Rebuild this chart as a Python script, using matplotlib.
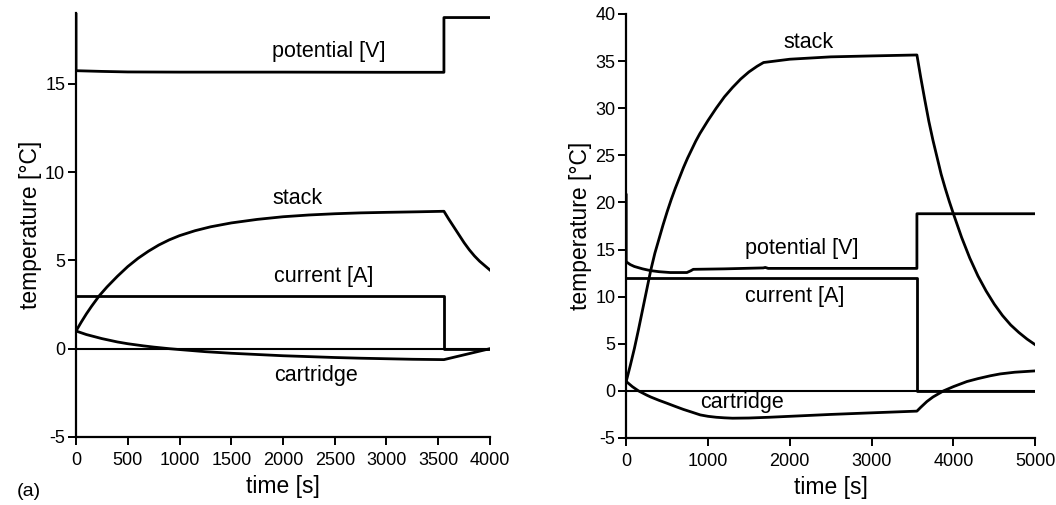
"""Stack / cartridge temperatures with current and potential, two runs side by side."""

import matplotlib

matplotlib.use("Agg")
import matplotlib.pyplot as plt

plt.rcParams["font.family"] = ["Liberation Sans", "DejaVu Sans"]
plt.rcParams["axes.unicode_minus"] = False

# ---- panel (a): 4000 s run ----
a_zero_t = [0, 4000]
a_zero_v = [0, 0]

a_pot_t = [0, 0, 250, 500, 1000, 2000, 3000, 3555, 3555, 4000]
a_pot_v = [19.0, 15.74, 15.7, 15.67, 15.66, 15.66, 15.65, 15.65, 18.75, 18.75]

a_cur_t = [0, 3555, 3555, 4000]
a_cur_v = [3.0, 3.0, 0.0, 0.0]

a_stack_t = [0, 50, 100, 150, 225, 300, 400, 500, 600, 700, 800, 900, 1000, 1150, 1300,
             1500, 1750, 2000, 2250, 2500, 2750, 3000, 3300, 3555,
             3600, 3650, 3700, 3750, 3800, 3850, 3900, 3950, 4000]
a_stack_v = [1.0, 1.5, 1.97, 2.4, 3.0, 3.5, 4.1, 4.65, 5.12, 5.52, 5.87, 6.16, 6.4, 6.68, 6.9,
             7.12, 7.32, 7.47, 7.57, 7.64, 7.69, 7.72, 7.75, 7.78,
             7.35, 6.9, 6.45, 6.0, 5.6, 5.25, 4.95, 4.7, 4.45]

a_cart_t = [0, 100, 250, 400, 500, 650, 750, 900, 1000, 1250, 1500, 1750, 2000, 2250, 2500,
            2750, 3000, 3250, 3555, 4000]
a_cart_v = [1.0, 0.8, 0.57, 0.38, 0.28, 0.16, 0.09, 0.0, -0.05, -0.17, -0.26, -0.33, -0.4,
            -0.45, -0.5, -0.54, -0.57, -0.6, -0.62, 0.0]

# ---- panel (b): 5000 s run ----
b_zero_t = [0, 5000]
b_zero_v = [0, 0]

b_pot_t = [0, 0, 50, 100, 200, 293, 400, 538, 742, 790, 820, 1200, 1675, 1700, 1736,
           2500, 3554, 3554, 5000]
b_pot_v = [20.8, 13.7, 13.4, 13.2, 12.95, 12.77, 12.65, 12.56, 12.56, 12.75, 12.9, 12.95,
           13.05, 13.1, 13.0, 13.0, 13.0, 18.8, 18.8]

b_cur_t = [0, 3554, 3554, 5000]
b_cur_v = [12.0, 12.0, 0.0, 0.0]

b_stack_t = [0, 50, 100, 150, 200, 250, 300, 350, 400, 450, 500, 550, 600, 650, 700, 750,
             800, 850, 900, 950, 1000, 1100, 1200, 1300, 1400, 1500, 1600, 1679,
             2000, 2500, 3000, 3554,
             3600, 3650, 3700, 3750, 3800, 3850, 3900, 3950, 4000, 4100, 4200, 4300,
             4400, 4500, 4600, 4700, 4800, 4900, 5000]
b_stack_v = [1.0, 2.7, 4.5, 6.5, 8.6, 10.7, 12.8, 14.6, 16.1, 17.6, 19.0, 20.3, 21.5, 22.6,
             23.7, 24.7, 25.6, 26.5, 27.3, 28.0, 28.7, 30.0, 31.2, 32.2, 33.1, 33.85, 34.45,
             34.85, 35.2, 35.45, 35.55, 35.65,
             33.3, 30.9, 28.6, 26.6, 24.8, 23.0, 21.5, 20.1, 18.8, 16.3, 14.1, 12.2,
             10.6, 9.2, 8.0, 7.0, 6.2, 5.5, 4.9]

b_cart_t = [0, 75, 150, 253, 300, 400, 497, 600, 700, 800, 905, 1000, 1100, 1200, 1300,
            1500, 1750, 2000, 2500, 3000, 3554, 3600, 3676, 3750, 3879, 4000, 4165, 4300,
            4450, 4572, 4750, 5000]
b_cart_v = [1.0, 0.45, 0.0, -0.46, -0.65, -1.0, -1.31, -1.65, -1.97, -2.25, -2.55, -2.7,
            -2.8, -2.86, -2.9, -2.88, -2.8, -2.7, -2.5, -2.33, -2.15, -1.75, -1.13, -0.65,
            0.0, 0.45, 0.99, 1.3, 1.6, 1.8, 1.98, 2.12]

LW = 2.0


def style(ax, xticks, yticks, xlim, ylim):
    for side in ("top", "right"):
        ax.spines[side].set_visible(False)
    for side in ("left", "bottom"):
        ax.spines[side].set_linewidth(1.6)
    ax.set_xlim(*xlim)
    ax.set_ylim(*ylim)
    ax.set_xticks(xticks)
    ax.set_yticks(yticks)
    ax.tick_params(direction="out", length=5.8, width=1.4, labelsize=13)
    ax.tick_params(axis="x", pad=5)
    ax.tick_params(axis="y", pad=2)
    ax.set_xlabel("time [s]", fontsize=16.5, labelpad=4)
    ax.set_ylabel("temperature [°C]", fontsize=16.5, labelpad=2)


def main():
    fig = plt.figure(figsize=(10.56, 5.05), dpi=100)
    lab = dict(fontsize=15.5, ha="center", va="center")
    line = dict(color="black", lw=LW, solid_joinstyle="round")

    ax1 = fig.add_axes([0.072, 0.1347, 0.392, 0.8393])
    ax1.plot(a_zero_t, a_zero_v, color="black", lw=1.5)
    ax1.plot(a_pot_t, a_pot_v, **line)
    ax1.plot(a_cur_t, a_cur_v, **line)
    ax1.plot(a_stack_t, a_stack_v, **line)
    ax1.plot(a_cart_t, a_cart_v, **line)
    style(ax1, range(0, 4001, 500), range(-5, 16, 5), (0, 4000), (-5, 19.0))
    ax1.text(2445, 16.8, "potential [V]", **lab)
    ax1.text(2145, 8.5, "stack", **lab)
    ax1.text(2390, 4.1, "current [A]", **lab)
    ax1.text(2320, -1.5, "cartridge", **lab)
    fig.text(0.016, 0.026, "(a)", fontsize=14, ha="left", va="center")

    ax2 = fig.add_axes([0.593, 0.1327, 0.3873, 0.8396])
    ax2.plot(b_zero_t, b_zero_v, color="black", lw=1.5)
    ax2.plot(b_pot_t, b_pot_v, **line)
    ax2.plot(b_cur_t, b_cur_v, **line)
    ax2.plot(b_stack_t, b_stack_v, **line)
    ax2.plot(b_cart_t, b_cart_v, **line)
    style(ax2, range(0, 5001, 1000), range(-5, 41, 5), (0, 5000), (-5, 40))
    ax2.text(2227, 37.0, "stack", **lab)
    ax2.text(2145, 15.1, "potential [V]", **lab)
    ax2.text(2063, 10.0, "current [A]", **lab)
    ax2.text(1411, -1.2, "cartridge", **lab)

    fig.savefig("out.png", dpi=100)


if __name__ == "__main__":
    main()
